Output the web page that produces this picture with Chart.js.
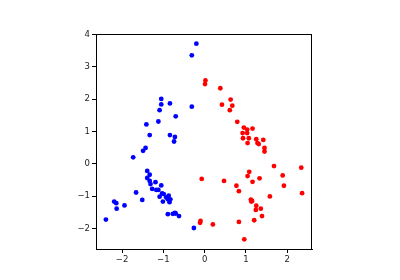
<!DOCTYPE html>
<html>
<head>
<meta charset="utf-8">
<script src="https://cdn.jsdelivr.net/npm/chart.js@4/dist/chart.umd.min.js"></script>
<style>
    body { margin: 0; background: #fff; }
    #wrap { width: 400px; height: 280px; }
</style>
</head>
<body>
<div id="wrap"><canvas id="chart"></canvas></div>
<script>
// values
const blueX = [-0.20, -0.31, -1.05, -1.05, -0.84, -0.31, -1.09, -0.70, -1.12, -1.41,
    -1.33, -0.84, -0.72, -0.74, -1.43, -1.49, -1.73, -1.39, -1.33, -1.39,
    -1.33, -1.31, -1.19, -1.05, -1.27, -1.17, -1.12, -1.03, -0.99, -1.66,
    -1.09, -0.93, -0.87, -0.89, -0.83, -0.85, -1.01, -1.51, -2.19, -2.14,
    -2.13, -1.94, -2.39, -0.89, -0.77, -0.72, -0.70, -0.62, -0.26];
const blueY = [3.72, 3.36, 2.01, 1.84, 1.87, 1.77, 1.66, 1.47, 1.31, 1.22,
    0.89, 0.89, 0.83, 0.69, 0.49, 0.40, 0.20, -0.22, -0.34, -0.44,
    -0.53, -0.63, -0.57, -0.67, -0.78, -0.81, -0.81, -0.92, -0.94, -0.89,
    -1.02, -1.04, -0.99, -1.10, -1.10, -1.19, -1.17, -1.12, -1.17, -1.22,
    -1.39, -1.29, -1.73, -1.56, -1.55, -1.52, -1.54, -1.62, -1.99];

const redX = [0.02, 0.01, 0.38, 0.63, 0.42, 0.67, 0.61, 0.79, 0.95, 1.03,
    1.16, 0.92, 1.03, 0.93, 1.07, 1.25, 1.04, 1.28, 1.31, 1.42,
    1.45, 1.45, 1.68, 2.34, 1.89, 1.04, 1.08, 1.33, 1.16, -0.07,
    0.47, 0.77, 1.92, 0.83, 2.36, 1.58, 1.12, 1.13, 1.15, 1.25,
    1.36, 1.24, 1.39, 1.20, 0.83, 0.20, -0.10, -0.11, 0.96];
const redY = [2.58, 2.47, 2.34, 1.99, 1.83, 1.80, 1.66, 1.30, 1.12, 1.06,
    1.09, 0.95, 0.95, 0.79, 0.79, 0.76, 0.64, 0.64, 0.61, 0.74,
    0.49, 0.38, -0.07, -0.12, -0.36, -0.38, -0.25, -0.45, -0.56, -0.47,
    -0.53, -0.68, -0.68, -0.85, -0.91, -1.01, -1.11, -1.17, -1.15, -1.30,
    -1.39, -1.43, -1.62, -1.75, -1.80, -1.88, -1.77, -1.83, -2.34];

const xTicks = [-2, -1, 0, 1, 2];
const yTicks = [-2, -1, 0, 1, 2, 3, 4];

const toPoints = (xs, ys) => xs.map((x, i) => ({ x: x, y: ys[i] }));
const minusLabel = v => v < 0 ? '\u2212' + Math.abs(v) : String(v);

// matplotlib style box round the plot
const boxPlugin = {
    id: 'box',
    afterDraw(chart) {
        const { ctx, chartArea: a } = chart;
        ctx.save();
        ctx.strokeStyle = '#000';
        ctx.lineWidth = 1;
        ctx.strokeRect(Math.round(a.left) + 0.5, Math.round(a.top) + 0.5,
            Math.round(a.right - a.left) - 1, Math.round(a.bottom - a.top));
        ctx.restore();
    }
};

const axisStyle = {
    grid: { drawOnChartArea: false, tickLength: 4, tickColor: '#000', tickWidth: 1 },
    border: { color: '#000', width: 1 },
    ticks: { color: '#222', padding: 2, font: { family: 'DejaVu Sans', size: 8.5 }, callback: minusLabel }
};

new Chart(document.getElementById('chart'), {
    type: 'scatter',
    data: {
        datasets: [
            { data: toPoints(blueX, blueY), backgroundColor: '#0000ff', borderWidth: 0, pointRadius: 2.4 },
            { data: toPoints(redX, redY), backgroundColor: '#ff0000', borderWidth: 0, pointRadius: 2.4 }
        ]
    },
    options: {
        responsive: true,
        maintainAspectRatio: false,
        animation: false,
        layout: { padding: { left: 0, right: 88, top: 34, bottom: 0 } },
        plugins: { legend: { display: false }, tooltip: { enabled: false } },
        scales: {
            x: {
                ...axisStyle,
                min: -2.63, max: 2.60,
                afterBuildTicks: s => { s.ticks = xTicks.map(v => ({ value: v })); },
                afterFit: s => { s.height = 31; }
            },
            y: {
                ...axisStyle,
                min: -2.64, max: 4.02,
                afterBuildTicks: s => { s.ticks = yTicks.map(v => ({ value: v })); },
                afterFit: s => { s.width = 96; }
            }
        }
    },
    plugins: [boxPlugin]
});
</script>
</body>
</html>
